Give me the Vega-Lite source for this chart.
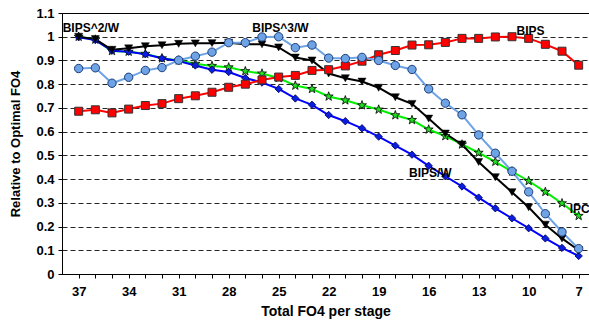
{
  "$schema": "https://vega.github.io/schema/vega-lite/v6.json",
  "width": 527,
  "height": 261,
  "autosize": {"type": "none"},
  "padding": {"left": 62, "top": 13, "right": 0, "bottom": 50},
  "background": "#ffffff",
  "config": {
    "font": "Liberation Sans",
    "view": {"stroke": "#000000", "strokeWidth": 1},
    "axis": {"labelFont": "Liberation Sans", "titleFont": "Liberation Sans", "labelFontWeight": "bold", "titleFontWeight": "bold", "labelColor": "#000", "titleColor": "#000", "domainColor": "#000", "tickColor": "#000"}
  },
  "datasets": {
    "perf": [
      {"fo4": 37, "BIPS": 0.686, "BIPS^3/W": 0.866, "BIPS^2/W": 1.0, "IPC": 1.0, "BIPS/W": 0.998},
      {"fo4": 36, "BIPS": 0.692, "BIPS^3/W": 0.869, "BIPS^2/W": 0.99, "IPC": 0.988, "BIPS/W": 0.986},
      {"fo4": 35, "BIPS": 0.679, "BIPS^3/W": 0.804, "BIPS^2/W": 0.945, "IPC": 0.94, "BIPS/W": 0.941},
      {"fo4": 34, "BIPS": 0.695, "BIPS^3/W": 0.829, "BIPS^2/W": 0.951, "IPC": 0.937, "BIPS/W": 0.937},
      {"fo4": 33, "BIPS": 0.71, "BIPS^3/W": 0.858, "BIPS^2/W": 0.96, "IPC": 0.928, "BIPS/W": 0.926},
      {"fo4": 32, "BIPS": 0.718, "BIPS^3/W": 0.87, "BIPS^2/W": 0.964, "IPC": 0.909, "BIPS/W": 0.909},
      {"fo4": 31, "BIPS": 0.739, "BIPS^3/W": 0.901, "BIPS^2/W": 0.97, "IPC": 0.9, "BIPS/W": 0.898},
      {"fo4": 30, "BIPS": 0.751, "BIPS^3/W": 0.918, "BIPS^2/W": 0.972, "IPC": 0.886, "BIPS/W": 0.879},
      {"fo4": 29, "BIPS": 0.766, "BIPS^3/W": 0.935, "BIPS^2/W": 0.973, "IPC": 0.877, "BIPS/W": 0.861},
      {"fo4": 28, "BIPS": 0.787, "BIPS^3/W": 0.975, "BIPS^2/W": 0.975, "IPC": 0.871, "BIPS/W": 0.851},
      {"fo4": 27, "BIPS": 0.8, "BIPS^3/W": 0.975, "BIPS^2/W": 0.968, "IPC": 0.855, "BIPS/W": 0.826},
      {"fo4": 26, "BIPS": 0.818, "BIPS^3/W": 0.999, "BIPS^2/W": 0.968, "IPC": 0.845, "BIPS/W": 0.807},
      {"fo4": 25, "BIPS": 0.83, "BIPS^3/W": 1.0, "BIPS^2/W": 0.955, "IPC": 0.826, "BIPS/W": 0.78},
      {"fo4": 24, "BIPS": 0.837, "BIPS^3/W": 0.954, "BIPS^2/W": 0.912, "IPC": 0.794, "BIPS/W": 0.74},
      {"fo4": 23, "BIPS": 0.858, "BIPS^3/W": 0.965, "BIPS^2/W": 0.9, "IPC": 0.78, "BIPS/W": 0.713},
      {"fo4": 22, "BIPS": 0.861, "BIPS^3/W": 0.91, "BIPS^2/W": 0.845, "IPC": 0.748, "BIPS/W": 0.67},
      {"fo4": 21, "BIPS": 0.877, "BIPS^3/W": 0.908, "BIPS^2/W": 0.825, "IPC": 0.732, "BIPS/W": 0.644},
      {"fo4": 20, "BIPS": 0.897, "BIPS^3/W": 0.913, "BIPS^2/W": 0.811, "IPC": 0.711, "BIPS/W": 0.614},
      {"fo4": 19, "BIPS": 0.924, "BIPS^3/W": 0.9, "BIPS^2/W": 0.785, "IPC": 0.693, "BIPS/W": 0.579},
      {"fo4": 18, "BIPS": 0.942, "BIPS^3/W": 0.879, "BIPS^2/W": 0.745, "IPC": 0.669, "BIPS/W": 0.541},
      {"fo4": 17, "BIPS": 0.965, "BIPS^3/W": 0.862, "BIPS^2/W": 0.717, "IPC": 0.649, "BIPS/W": 0.503},
      {"fo4": 16, "BIPS": 0.966, "BIPS^3/W": 0.78, "BIPS^2/W": 0.655, "IPC": 0.609, "BIPS/W": 0.456},
      {"fo4": 15, "BIPS": 0.976, "BIPS^3/W": 0.72, "BIPS^2/W": 0.592, "IPC": 0.581, "BIPS/W": 0.412},
      {"fo4": 14, "BIPS": 0.993, "BIPS^3/W": 0.671, "BIPS^2/W": 0.546, "IPC": 0.546, "BIPS/W": 0.369},
      {"fo4": 13, "BIPS": 0.993, "BIPS^3/W": 0.586, "BIPS^2/W": 0.472, "IPC": 0.511, "BIPS/W": 0.322},
      {"fo4": 12, "BIPS": 0.999, "BIPS^3/W": 0.509, "BIPS^2/W": 0.408, "IPC": 0.473, "BIPS/W": 0.277},
      {"fo4": 11, "BIPS": 1.0, "BIPS^3/W": 0.433, "BIPS^2/W": 0.345, "IPC": 0.432, "BIPS/W": 0.235},
      {"fo4": 10, "BIPS": 0.993, "BIPS^3/W": 0.346, "BIPS^2/W": 0.281, "IPC": 0.392, "BIPS/W": 0.193},
      {"fo4": 9, "BIPS": 0.968, "BIPS^3/W": 0.254, "BIPS^2/W": 0.208, "IPC": 0.346, "BIPS/W": 0.15},
      {"fo4": 8, "BIPS": 0.939, "BIPS^3/W": 0.177, "BIPS^2/W": 0.15, "IPC": 0.298, "BIPS/W": 0.11},
      {"fo4": 7, "BIPS": 0.88, "BIPS^3/W": 0.107, "BIPS^2/W": 0.1, "IPC": 0.245, "BIPS/W": 0.076}
    ],
    "labels": [
      {"fo4": 37.96, "value": 1.038, "text": "BIPS^2/W"},
      {"fo4": 26.58, "value": 1.038, "text": "BIPS^3/W"},
      {"fo4": 10.73, "value": 1.025, "text": "BIPS"},
      {"fo4": 17.18, "value": 0.426, "text": "BIPS/W"},
      {"fo4": 7.54, "value": 0.274, "text": "IPC"}
    ]
  },
  "data": {"name": "perf"},
  "transform": [
    {"fold": ["IPC", "BIPS/W", "BIPS^2/W", "BIPS", "BIPS^3/W"], "as": ["series", "value"]}
  ],
  "encoding": {
    "x": {
      "field": "fo4", "type": "quantitative",
      "scale": {"domain": [38, 6.38], "nice": false, "zero": false},
      "axis": {
        "title": "Total FO4 per stage", "titleFontSize": 14, "titlePadding": 6,
        "values": [37,36,35,34,33,32,31,30,29,28,27,26,25,24,23,22,21,20,19,18,17,16,15,14,13,12,11,10,9,8,7],
        "labelExpr": "(37 - datum.value) % 3 == 0 ? datum.label : ''",
        "labelFontSize": 13, "labelPadding": 7, "tickSize": 4, "grid": false, "labelFlush": false
      }
    },
    "y": {
      "field": "value", "type": "quantitative",
      "scale": {"domain": [0, 1.1], "nice": false},
      "axis": {
        "title": "Relative to Optimal FO4", "titleFontSize": 13, "titlePadding": 13,
        "values": [0, 0.1, 0.2, 0.3, 0.4, 0.5, 0.6, 0.7, 0.8, 0.9, 1.0, 1.1],
        "format": ".1~f", "labelFontSize": 13, "tickSize": 4, "labelPadding": 4,
        "grid": true, "gridColor": "#000000", "gridDash": [5, 3], "gridWidth": 1, "gridOpacity": 0.85
      }
    }
  },
  "layer": [
    {
      "mark": {"type": "line", "strokeWidth": 2},
      "encoding": {
        "color": {
          "field": "series", "type": "nominal", "legend": null,
          "scale": {"domain": ["IPC", "BIPS/W", "BIPS^2/W", "BIPS", "BIPS^3/W"], "range": ["#00ee00", "#0000ff", "#000000", "#ff0000", "#6ea3e6"]}
        }
      }
    },
    {
      "transform": [{"filter": "datum.series == 'IPC'"}],
      "mark": {"type": "point", "filled": true, "shape": "M0,-1L0.235,-0.324L0.951,-0.309L0.38,0.124L0.588,0.809L0,0.4L-0.588,0.809L-0.38,0.124L-0.951,-0.309L-0.235,-0.324Z", "size": 90, "fill": "#22dd22", "stroke": "#000000", "strokeWidth": 0.8, "opacity": 1}
    },
    {
      "transform": [{"filter": "datum.series == 'BIPS/W'"}],
      "mark": {"type": "point", "filled": true, "shape": "diamond", "size": 55, "fill": "#0a1ee0", "stroke": "#000050", "strokeWidth": 0.8, "opacity": 1}
    },
    {
      "transform": [{"filter": "datum.series == 'BIPS^2/W'"}],
      "mark": {"type": "point", "filled": true, "shape": "triangle-down", "size": 65, "fill": "#000000", "stroke": "#000000", "strokeWidth": 0.5, "opacity": 1}
    },
    {
      "transform": [{"filter": "datum.series == 'BIPS'"}],
      "mark": {"type": "point", "filled": true, "shape": "square", "size": 64, "fill": "#ff0000", "stroke": "#333333", "strokeWidth": 1, "opacity": 1}
    },
    {
      "transform": [{"filter": "datum.series == 'BIPS^3/W'"}],
      "mark": {"type": "point", "filled": true, "shape": "circle", "size": 70, "fill": "#6ea3e6", "stroke": "#1c3f78", "strokeWidth": 1, "opacity": 1}
    },
    {
      "data": {"name": "labels"},
      "transform": [],
      "mark": {"type": "text", "align": "left", "baseline": "middle", "fontWeight": "bold", "fontSize": 12, "font": "Liberation Sans", "color": "#000000"},
      "encoding": {
        "x": {"field": "fo4", "type": "quantitative"},
        "y": {"field": "value", "type": "quantitative"},
        "text": {"field": "text", "type": "nominal"}
      }
    }
  ]
}
